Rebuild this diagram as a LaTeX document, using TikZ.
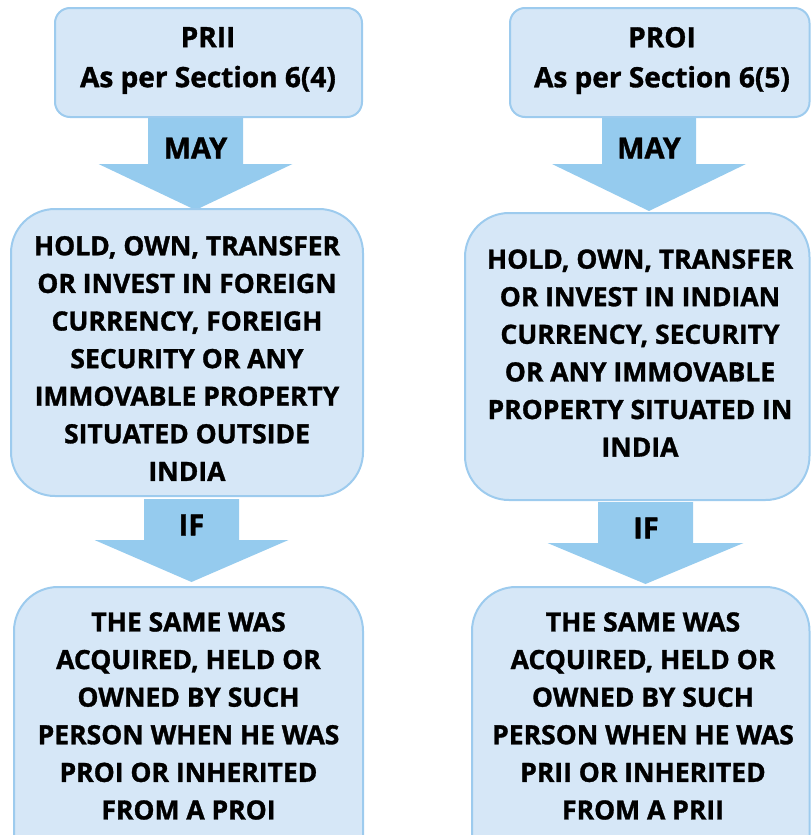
\documentclass[tikz,border=0pt]{standalone}
\usepackage{fontspec}
\setmainfont{Open Sans}[BoldFeatures={FakeBold=1.2}]
\usetikzlibrary{calc}
\definecolor{boxfill}{HTML}{D6E7F7}
\definecolor{boxline}{HTML}{9DCBEE}
\definecolor{arrowfill}{HTML}{95CBEE}
\tikzset{
  boxsmall/.style={draw=boxline, line width=2pt, fill=boxfill, rounded corners=15pt},
  boxbig/.style={draw=boxline, line width=2pt, fill=boxfill, rounded corners=44pt},
  txt/.style={align=center, font=\bfseries\fontsize{26.5}{37.6}\selectfont, inner sep=0pt},
  toptxt/.style={align=center, font=\bfseries\fontsize{28}{40}\selectfont, inner sep=0pt},
  arrtxt/.style={font=\bfseries\fontsize{29}{34}\selectfont, inner sep=0pt},
  blockarrow/.style={fill=arrowfill, draw=none},
}
\begin{document}
\begin{tikzpicture}[x=1pt,y=-1pt]
\useasboundingbox (0,0) rectangle (811,835);
\clip (0,0) rectangle (811,835);
% left column
\draw[boxsmall] (55,8) rectangle (362,117);
\node[toptxt] (t1) at (208,60.5) {PRII\\As per Section 6(4)};
\coordinate (a1) at (195.5,118);
\fill[blockarrow] ($(a1)+(-47.5,0)$) -- ($(a1)+(47.5,0)$) -- ($(a1)+(47.5,46)$) -- ($(a1)+(97,46)$) -- ($(a1)+(0,92)$) -- ($(a1)+(-97,46)$) -- ($(a1)+(-47.5,46)$) -- cycle;
\node[arrtxt] (may1) at (195.5,148) {MAY};
\draw[boxbig] (11,209) rectangle (363,496);
\node[txt] (m1) at (187,358.5) {HOLD, OWN, TRANSFER\\OR INVEST IN FOREIGN\\CURRENCY, FOREIGH\\SECURITY OR ANY\\IMMOVABLE PROPERTY\\SITUATED OUTSIDE\\INDIA};
\coordinate (a2) at (191.5,499);
\fill[blockarrow] ($(a2)+(-47.5,0)$) -- ($(a2)+(47.5,0)$) -- ($(a2)+(47.5,41)$) -- ($(a2)+(97,41)$) -- ($(a2)+(0,83)$) -- ($(a2)+(-97,41)$) -- ($(a2)+(-47.5,41)$) -- cycle;
\node[arrtxt] (if1) at (191.5,525) {IF};
\draw[boxbig] (14,587) rectangle (363,880);
\node[txt] (b1) at (188.5,716) {THE SAME WAS\\ACQUIRED, HELD OR\\OWNED BY SUCH\\PERSON WHEN HE WAS\\PROI OR INHERITED\\FROM A PROI};
% right column
\draw[boxsmall] (510,8) rectangle (809.5,117);
\node[toptxt] (t2) at (662,60.5) {PROI\\As per Section 6(5)};
\coordinate (a3) at (649,118);
\fill[blockarrow] ($(a3)+(-47,0)$) -- ($(a3)+(47,0)$) -- ($(a3)+(47,46)$) -- ($(a3)+(97,46)$) -- ($(a3)+(0,93)$) -- ($(a3)+(-97,46)$) -- ($(a3)+(-47,46)$) -- cycle;
\node[arrtxt] (may2) at (649,148) {MAY};
\draw[boxbig] (465,213) rectangle (809.5,500);
\node[txt] (m2) at (640,353) {HOLD, OWN, TRANSFER\\OR INVEST IN INDIAN\\CURRENCY, SECURITY\\OR ANY IMMOVABLE\\PROPERTY SITUATED IN\\INDIA};
\coordinate (a4) at (645.5,502);
\fill[blockarrow] ($(a4)+(-47.5,0)$) -- ($(a4)+(47.5,0)$) -- ($(a4)+(47.5,41)$) -- ($(a4)+(98,41)$) -- ($(a4)+(0,82)$) -- ($(a4)+(-98,41)$) -- ($(a4)+(-47.5,41)$) -- cycle;
\node[arrtxt] (if2) at (646,528) {IF};
\draw[boxbig] (472,587) rectangle (809.5,880);
\node[txt] (b2) at (643,716) {THE SAME WAS\\ACQUIRED, HELD OR\\OWNED BY SUCH\\PERSON WHEN HE WAS\\PRII OR INHERITED\\FROM A PRII};
\end{tikzpicture}
\end{document}
